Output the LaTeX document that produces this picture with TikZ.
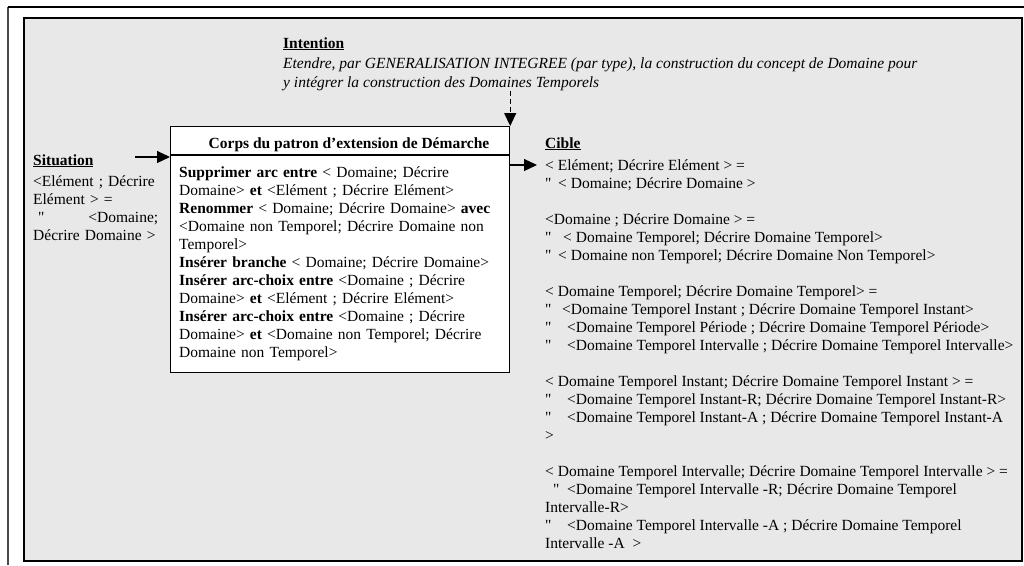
\documentclass[tikz,border=0pt]{standalone}
\usepackage{fontspec}
\setmainfont{Liberation Serif}[Ligatures=TeXOff]
\usetikzlibrary{arrows.meta, positioning, calc}
\definecolor{fondgris}{HTML}{E8E8E8}
\definecolor{traitgris}{HTML}{4A4A4A}
\newcommand\taille{\fontsize{15.5}{18}\selectfont}
\newcommand\guil[1]{\makebox[#1][l]{"}}
\newcommand\pleine[1]{\makebox[322pt][s]{#1}}

\begin{document}
\begin{tikzpicture}[x=1pt, y=-1pt,
    every node/.style={font=\taille, inner sep=0pt},
    texte/.style={anchor=north west, align=left},
    titre/.style={anchor=base west, font=\taille\bfseries},
    boite/.style={draw=black, fill=white, line width=1.2pt, anchor=north west},
    fleche/.style={-{Triangle[length=13pt, width=12pt]}, line width=1.2pt}]
    \useasboundingbox (0,0) rectangle (1024,565);
    % cadres
    \draw[traitgris, line width=2.5pt] (8,565) -- (8,7);
    \draw[black, line width=2pt] (8,7) -- (1024,7);
    \draw[fill=fondgris, line width=1.4pt] (24,18) rectangle (1022,561);

    % intention
    \node[titre] (intitre) at (283,48) {\underline{Intention}};
    \node[texte, font=\fontsize{15.5}{19}\selectfont\itshape] (intention) at (283,57.2)
        {Etendre, par GENERALISATION INTEGREE (par type), la construction du concept de Domaine pour\\
         y intégrer la construction des Domaines Temporels};

    % corps du patron
    \node[boite, minimum width=339pt, minimum height=246pt] (corps) at (170,126) {};
    \node[anchor=base, font=\taille\bfseries] (corpstitre) at (349,148) {Corps du patron d’extension de Démarche};
    \coordinate (sepg) at (170,155);
    \coordinate (sepd) at (509,155);
    \draw[line width=1.2pt] (sepg) -- (sepd);
    \node[texte, text width=322pt] (regles) at (179,166.5)
        {\pleine{\textbf{Supprimer arc entre} < Domaine; Décrire}\\
         Domaine> \textbf{et} <Elément ; Décrire Elément>\\
         \pleine{\textbf{Renommer} < Domaine; Décrire Domaine> \textbf{avec}}\\
         \pleine{<Domaine non Temporel; Décrire Domaine non}\\
         Temporel>\\
         \textbf{Insérer branche} < Domaine; Décrire Domaine>\\
         \textbf{Insérer arc-choix entre} <Domaine ; Décrire\\
         Domaine> \textbf{et} <Elément ; Décrire Elément>\\
         \textbf{Insérer arc-choix entre} <Domaine ; Décrire\\
         Domaine> \textbf{et} <Domaine non Temporel; Décrire\\
         Domaine non Temporel>};

    % situation
    \node[titre] (sittitre) at (33,165) {\underline{Situation}};
    \node[texte, text width=125pt] (situation) at (33,175.5)
        {\makebox[125pt][s]{<Elément ; Décrire}\\
         Elément > =\\
         \makebox[125pt][s]{\hspace{5pt}" \hspace{0pt plus 1fil}<Domaine;}\\
         Décrire Domaine >};
    \coordinate (sitdepart) at (135,157);
    \draw[fleche] (sitdepart) -- (sitdepart -| corps.west);

    % cible
    \node[titre] (cibletitre) at (545,148) {\underline{Cible}};
    \node[texte] (cible) at (545,159.4)
        {< Elément; Décrire Elément > =\\
         \guil{13pt}< Domaine; Décrire Domaine >\\[18pt]
         <Domaine ; Décrire Domaine > =\\
         \guil{18pt}< Domaine Temporel; Décrire Domaine Temporel>\\
         \guil{13pt}< Domaine non Temporel; Décrire Domaine Non Temporel>\\[18pt]
         < Domaine Temporel; Décrire Domaine Temporel> =\\
         \guil{17pt}<Domaine Temporel Instant ; Décrire Domaine Temporel Instant>\\
         \guil{22pt}<Domaine Temporel Période ; Décrire Domaine Temporel Période>\\
         \guil{22pt}<Domaine Temporel Intervalle ; Décrire Domaine Temporel Intervalle>\\[18pt]
         < Domaine Temporel Instant; Décrire Domaine Temporel Instant > =\\
         \guil{22pt}<Domaine Temporel Instant-R; Décrire Domaine Temporel Instant-R>\\
         \guil{22pt}<Domaine Temporel Instant-A ; Décrire Domaine Temporel Instant-A\\
         >\\[18pt]
         < Domaine Temporel Intervalle; Décrire Domaine Temporel Intervalle > =\\
         \hspace{8pt}\guil{14pt}<Domaine Temporel Intervalle -R; Décrire Domaine Temporel\\
         Intervalle-R>\\
         \guil{22pt}<Domaine Temporel Intervalle -A ; Décrire Domaine Temporel\\
         Intervalle -A~~>};
    \coordinate (ciblearr) at (537,165);
    \draw[fleche] (ciblearr -| corps.east) -- (ciblearr);

    % intention vers corps
    \draw[fleche, dash pattern=on 5pt off 3pt] (intention.south -| corps.north east) -- (corps.north east);
\end{tikzpicture}
\end{document}
